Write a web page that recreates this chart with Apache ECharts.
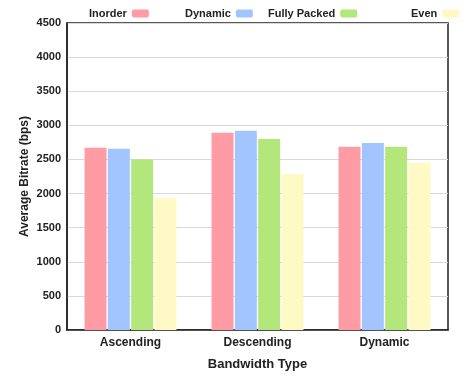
<!DOCTYPE html>
<html><head><meta charset="utf-8">
<script src="https://cdn.jsdelivr.net/npm/echarts@6/dist/echarts.min.js"></script>
<style>html,body{margin:0;padding:0;background:#fff}#c{width:468px;height:376px}</style>
</head><body><div id="c"></div>
<script>
const categories = ['Ascending', 'Descending', 'Dynamic'];
const seriesNames = ['Inorder', 'Dynamic', 'Fully Packed', 'Even'];
const inorder = [2670, 2890, 2685];
const dynamicVals = [2655, 2920, 2740];
const fullyPacked = [2500, 2800, 2685];
const even = [1935, 2285, 2450];
const yTicks = [0, 500, 1000, 1500, 2000, 2500, 3000, 3500, 4000, 4500];
const colors = ['#ff9ba5', '#a2c5ff', '#b3e67b', '#fff9c6'];
const values = [inorder, dynamicVals, fullyPacked, even];
const font = 'Liberation Sans, Arial, sans-serif';
const legendLefts = [89, 185, 268, 411];
const chart = echarts.init(document.getElementById('c'));
chart.setOption({
  animation: false,
  textStyle: { fontFamily: font },
  legend: seriesNames.map((n, i) => ({
    data: [n], left: legendLefts[i], top: 8, align: 'right', padding: 0,
    itemWidth: 17, itemHeight: 8, itemGap: 6,
    textStyle: { fontFamily: font, fontWeight: 'bold', fontSize: 11, color: '#222', padding: [0, 0, 0, 0] }
  })),
  grid: { left: 67, right: 20, top: 23, bottom: 46, show: true, borderColor: '#222', borderWidth: 1.5, containLabel: false },
  xAxis: {
    type: 'category', data: categories,
    name: 'Bandwidth Type', nameLocation: 'middle', nameGap: 28, nameMoveOverlap: false,
    nameTextStyle: { fontFamily: font, fontWeight: 'bold', fontSize: 13, color: '#222' },
    axisTick: { show: false },
    axisLine: { lineStyle: { color: '#222', width: 1.5 } },
    axisLabel: { fontFamily: font, fontWeight: 'bold', fontSize: 12, color: '#222', margin: 7 }
  },
  yAxis: {
    type: 'value', min: yTicks[0], max: yTicks[yTicks.length - 1], interval: 500,
    name: 'Average Bitrate (bps)', nameLocation: 'middle', nameGap: 36, nameMoveOverlap: false,
    nameTextStyle: { fontFamily: font, fontWeight: 'bold', fontSize: 12, color: '#222' },
    axisLine: { show: true, lineStyle: { color: '#222', width: 1.5 } },
    axisTick: { show: false },
    splitLine: { lineStyle: { color: '#d8d8d8', width: 1 } },
    axisLabel: { fontFamily: font, fontWeight: 'bold', fontSize: 11, color: '#222', margin: 6, formatter: v => String(v) }
  },
  series: seriesNames.map((n, i) => ({
    name: n, type: 'bar', data: values[i], barWidth: 22, barGap: '6%',
    itemStyle: { color: colors[i] }
  }))
});
</script></body></html>
